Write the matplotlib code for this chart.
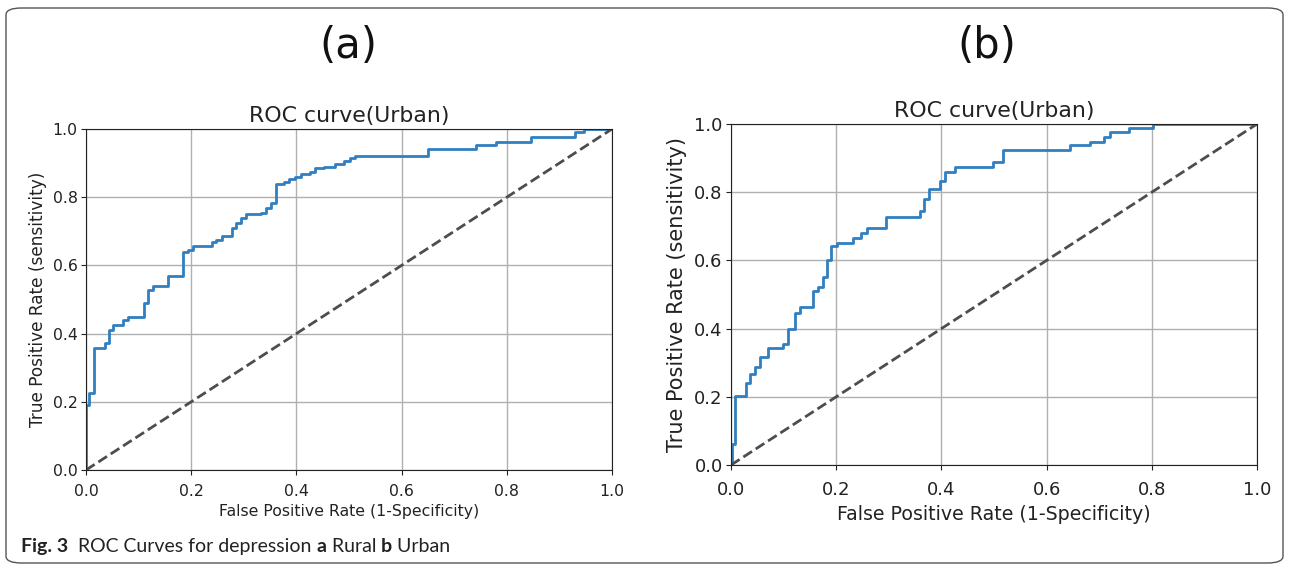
import matplotlib
matplotlib.use("Agg")
import matplotlib.pyplot as plt
from matplotlib.patches import FancyBboxPatch

# ---- data ----
fpr_rural = [0.0, 0.006, 0.015, 0.036, 0.044, 0.051, 0.071, 0.080, 0.110, 0.118,
             0.128, 0.156, 0.185, 0.194, 0.204, 0.239, 0.248, 0.259, 0.278, 0.286,
             0.295, 0.305, 0.333, 0.343, 0.352, 0.361, 0.376, 0.386, 0.398, 0.409,
             0.425, 0.435, 0.453, 0.473, 0.491, 0.501, 0.512, 0.650, 0.741, 0.779,
             0.846, 0.930, 0.947]
tpr_rural = [0.19, 0.225, 0.359, 0.371, 0.41, 0.425, 0.44, 0.45, 0.49, 0.528,
             0.54, 0.569, 0.638, 0.645, 0.657, 0.668, 0.675, 0.686, 0.709, 0.725,
             0.739, 0.751, 0.755, 0.767, 0.782, 0.838, 0.844, 0.853, 0.858, 0.867,
             0.875, 0.885, 0.889, 0.896, 0.906, 0.914, 0.921, 0.940, 0.953, 0.963,
             0.976, 0.992, 1.0]

fpr_urban = [0.002, 0.008, 0.028, 0.036, 0.046, 0.055, 0.071, 0.099, 0.108, 0.122,
             0.131, 0.156, 0.165, 0.174, 0.182, 0.191, 0.201, 0.231, 0.248, 0.258,
             0.294, 0.359, 0.367, 0.376, 0.397, 0.407, 0.426, 0.498, 0.517, 0.644,
             0.683, 0.710, 0.720, 0.757, 0.802]
tpr_urban = [0.062, 0.202, 0.24, 0.267, 0.288, 0.318, 0.342, 0.355, 0.398, 0.447,
             0.462, 0.511, 0.523, 0.550, 0.601, 0.642, 0.65, 0.665, 0.679, 0.694,
             0.728, 0.745, 0.780, 0.809, 0.833, 0.860, 0.875, 0.888, 0.924, 0.938,
             0.948, 0.963, 0.976, 0.987, 1.0]

ticks = [0.0, 0.2, 0.4, 0.6, 0.8, 1.0]
tick_labels = ["0.0", "0.2", "0.4", "0.6", "0.8", "1.0"]
panel_titles = ["(a)", "(b)"]
axes_title = "ROC curve(Urban)"
xlabel = "False Positive Rate (1-Specificity)"
ylabel = "True Positive Rate (sensitivity)"
caption_parts = [("Fig. 3", True), ("  ROC Curves for depression ", False),
                 ("a", True), (" Rural ", False), ("b", True), (" Urban", False)]

W, H = 1290, 567
fig = plt.figure(figsize=(W / 100, H / 100), dpi=100)

# rounded border
border = FancyBboxPatch((6 / W, 4 / H), (W - 13) / W, (H - 12) / H,
                        boxstyle="round,pad=0,rounding_size=0.012",
                        transform=fig.transFigure, fill=False,
                        edgecolor="#555555", linewidth=1.0)
fig.patches.append(border)

def make_panel(rect, fpr, tpr, fs_ticks, fs_xlabel, fs_ylabel, fs_title,
               ylpad, xlpad, xpad):
    ax = fig.add_axes(rect)
    x = [0.0] + list(fpr) + [1.0]
    y = [0.0] + list(tpr) + [1.0]
    ax.step(x, y, where="post", color="#2f7fc1", lw=2)
    ax.plot([0, 1], [0, 1], linestyle="--", color="#4d4d4d", lw=2)
    ax.set_xlim(0, 1)
    ax.set_ylim(0, 1)
    ax.set_xticks(ticks)
    ax.set_xticklabels(tick_labels)
    ax.set_yticks(ticks)
    ax.set_yticklabels(tick_labels)
    ax.tick_params(labelsize=fs_ticks, colors="#222222")
    ax.tick_params(axis="y", pad=2.5)
    ax.tick_params(axis="x", pad=xpad)
    ax.grid(True, color="#b0b0b0", lw=1)
    ax.set_axisbelow(True)
    ax.set_xlabel(xlabel, fontsize=fs_xlabel, color="#222222", labelpad=xlpad)
    ax.set_ylabel(ylabel, fontsize=fs_ylabel, color="#222222", labelpad=ylpad)
    ax.set_title(axes_title, fontsize=fs_title, color="#222222", pad=5)
    for s in ax.spines.values():
        s.set_color("#222222")
    return ax

ax_a = make_panel([86 / W, 1 - 470 / H, 526 / W, 341 / H],
                  fpr_rural, tpr_rural, 11.3, 11.3, 12.2, 15.8, 4, 4, 6.5)
ax_b = make_panel([731 / W, 1 - 465 / H, 526 / W, 341 / H],
                  fpr_urban, tpr_urban, 13.0, 13.7, 15.0, 15.8, 5, 4, 8)

fig.text(348 / W, 1 - 46 / H, panel_titles[0], fontsize=30, ha="center",
         va="center", color="#111111")
fig.text(987 / W, 1 - 46 / H, panel_titles[1], fontsize=30, ha="center",
         va="center", color="#111111")

# caption assembled piece by piece
renderer = fig.canvas.get_renderer()
xpos = 21
for txt, bold in caption_parts:
    t = fig.text(xpos / W, 1 - 552 / H, txt, fontsize=14,
                 fontweight="bold" if bold else "normal",
                 family="Lato", ha="left", va="baseline", color="#222222")
    xpos += t.get_window_extent(renderer=renderer).width

fig.savefig("out.png", dpi=100)
